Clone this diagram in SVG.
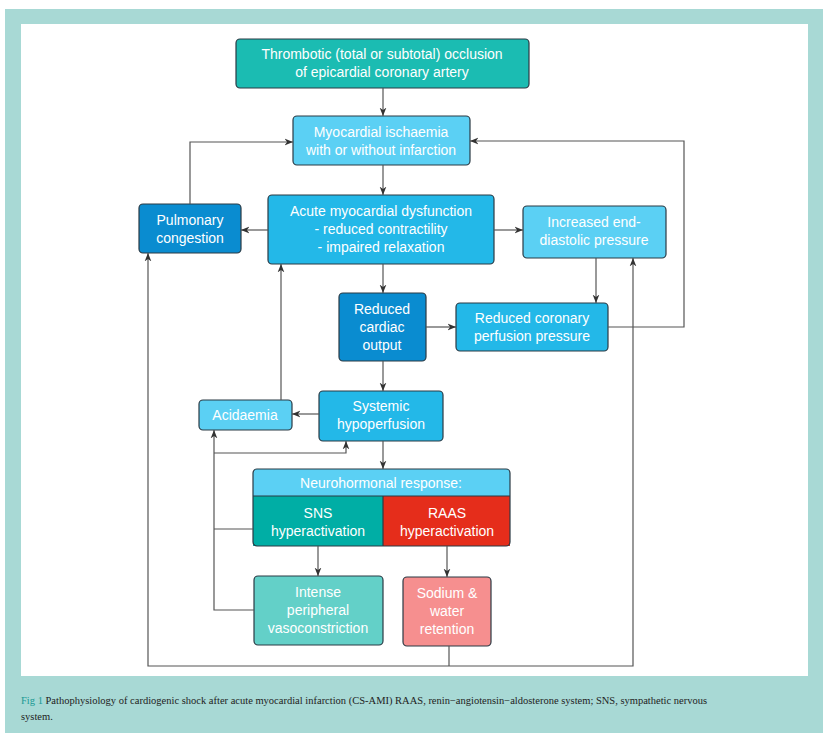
<svg xmlns="http://www.w3.org/2000/svg" width="827" height="740" viewBox="0 0 827 740">
<style>
.b{stroke:#2b3a44;stroke-width:1.2}
.t{font-family:"Liberation Sans",Arial,sans-serif;font-size:14px;fill:#fff;text-anchor:middle}
.c path{fill:none;stroke:#555;stroke-width:1.2}
.cap{font-family:"Liberation Serif","DejaVu Serif",serif;font-size:10.5px;fill:#222}
</style>
<defs><marker id="a" viewBox="0 0 10 10" refX="10" refY="5" markerWidth="7" markerHeight="7" orient="auto"><path d="M0,1 L10,5 L0,9 L3,5 z" fill="#333"/></marker></defs>
<rect x="0" y="0" width="827" height="740" fill="#fff"/>
<rect x="5" y="9" width="818" height="724" fill="#a8d9d5"/>
<rect x="21" y="24" width="787" height="652" fill="#fff"/>
<g id="n1"><rect class="b" x="236" y="39" width="293" height="49" rx="4" fill="#1bbcb2"/><text class="t" x="382" y="59">Thrombotic (total or subtotal) occlusion</text><text class="t" x="382" y="77">of epicardial coronary artery</text></g>
<g id="n2"><rect class="b" x="293" y="116" width="177" height="49" rx="4" fill="#5bd0f4"/><text class="t" x="381" y="137">Myocardial ischaemia</text><text class="t" x="381" y="155">with or without infarction</text></g>
<g id="n3"><rect class="b" x="139" y="204" width="102" height="49" rx="4" fill="#0a8cd0"/><text class="t" x="190" y="225">Pulmonary</text><text class="t" x="190" y="243">congestion</text></g>
<g id="n4"><rect class="b" x="268" y="195" width="226" height="69" rx="4" fill="#23b8e8"/><text class="t" x="381" y="216">Acute myocardial dysfunction</text><text class="t" x="381" y="234">- reduced contractility</text><text class="t" x="381" y="252">- impaired relaxation</text></g>
<g id="n5"><rect class="b" x="523" y="206" width="143" height="52" rx="4" fill="#5bd0f4"/><text class="t" x="594" y="227">Increased end-</text><text class="t" x="594" y="245">diastolic pressure</text></g>
<g id="n6"><rect class="b" x="339" y="293" width="87" height="68" rx="4" fill="#0a8cd0"/><text class="t" x="382" y="314">Reduced</text><text class="t" x="382" y="332">cardiac</text><text class="t" x="382" y="350">output</text></g>
<g id="n7"><rect class="b" x="456" y="303" width="152" height="48" rx="4" fill="#23b8e8"/><text class="t" x="532" y="323">Reduced coronary</text><text class="t" x="532" y="341">perfusion pressure</text></g>
<g id="n8"><rect class="b" x="199" y="400" width="93" height="30" rx="4" fill="#5bd0f4"/><text class="t" x="245" y="420">Acidaemia</text></g>
<g id="n9"><rect class="b" x="319" y="391" width="124" height="50" rx="4" fill="#23b8e8"/><text class="t" x="381" y="411">Systemic</text><text class="t" x="381" y="429">hypoperfusion</text></g>
<g id="n10"><rect x="253" y="469" width="257" height="77" rx="4" fill="#5bd0f4"/><rect x="253" y="496" width="130" height="50" fill="#00aea5"/><rect x="383" y="496" width="127" height="50" fill="#e52d1b"/><rect class="b" x="253" y="469" width="257" height="77" rx="4" fill="none"/><path d="M253,496H510M383,496V546" stroke="#2b3a44" stroke-width="1.2"/><text class="t" x="381" y="488">Neurohormonal response:</text><text class="t" x="318" y="518">SNS</text><text class="t" x="318" y="536">hyperactivation</text><text class="t" x="447" y="518">RAAS</text><text class="t" x="447" y="536">hyperactivation</text></g>
<g id="n11"><rect class="b" x="254" y="576" width="129" height="69" rx="4" fill="#63d0c8"/><text class="t" x="318" y="597">Intense</text><text class="t" x="318" y="615">peripheral</text><text class="t" x="318" y="633">vasoconstriction</text></g>
<g id="n12"><rect class="b" x="403" y="577" width="88" height="69" rx="4" fill="#f68f8f"/><text class="t" x="447" y="598">Sodium &amp;</text><text class="t" x="447" y="616">water</text><text class="t" x="447" y="634">retention</text></g>
<g class="c">
<path d="M383,88V116" marker-end="url(#a)"/>
<path d="M383,165V195" marker-end="url(#a)"/>
<path d="M190,204V142H293" marker-end="url(#a)"/>
<path d="M608,327H684V141H470" marker-end="url(#a)"/>
<path d="M268,230H241" marker-end="url(#a)"/>
<path d="M494,230H523" marker-end="url(#a)"/>
<path d="M596,258V303" marker-end="url(#a)"/>
<path d="M383,264V293" marker-end="url(#a)"/>
<path d="M426,327H456" marker-end="url(#a)"/>
<path d="M383,361V391" marker-end="url(#a)"/>
<path d="M319,414H292" marker-end="url(#a)"/>
<path d="M281,400V264" marker-end="url(#a)"/>
<path d="M383,441V469" marker-end="url(#a)"/>
<path d="M254,610H214V430" marker-end="url(#a)"/>
<path d="M253,529H214"/>
<path d="M214,453H346V441" marker-end="url(#a)"/>
<path d="M318,546V576" marker-end="url(#a)"/>
<path d="M447,546V577" marker-end="url(#a)"/>
<path d="M449,646V666"/>
<path d="M449,666H148V253" marker-end="url(#a)"/>
<path d="M449,666H633V258" marker-end="url(#a)"/>
</g>
<text class="cap" x="21" y="704"><tspan fill="#1a9a94">Fig 1</tspan> Pathophysiology of cardiogenic shock after acute myocardial infarction (CS-AMI) RAAS, renin−angiotensin−aldosterone system; SNS, sympathetic nervous</text>
<text class="cap" x="21" y="720">system.</text>
</svg>
